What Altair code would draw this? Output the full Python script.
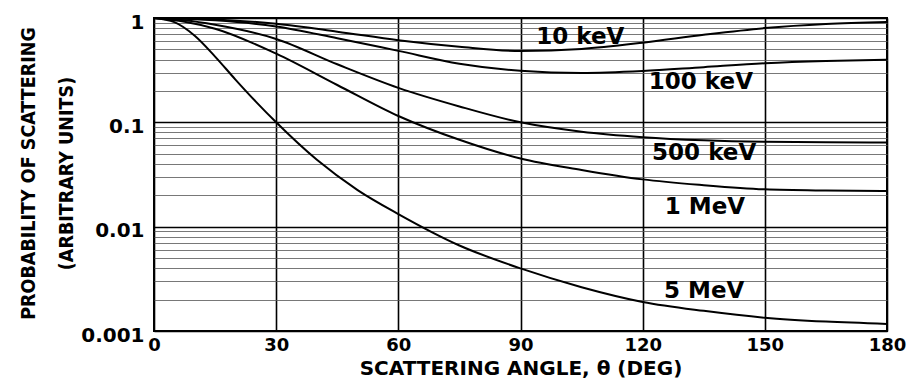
import altair as alt
import pandas as pd

# ---- data ----
angles = [0, 7.5, 15, 30, 45, 60, 75, 90, 105, 120, 135, 150, 165, 180]
p_10kev = [1.0, 0.99, 0.967, 0.88, 0.74, 0.612, 0.53, 0.482, 0.505, 0.58, 0.69, 0.80, 0.875, 0.915]
p_100kev = [1.0, 0.985, 0.95, 0.83, 0.64, 0.484, 0.365, 0.312, 0.297, 0.31, 0.338, 0.368, 0.387, 0.398]
p_500kev = [1.0, 0.95, 0.86, 0.63, 0.36, 0.214, 0.142, 0.1, 0.0813, 0.0721, 0.0673, 0.065, 0.0643, 0.0641]
p_1mev = [1.0, 0.92, 0.79, 0.455, 0.228, 0.115, 0.068, 0.045, 0.035, 0.0284, 0.025, 0.0228, 0.0222, 0.022]

angles_5mev = [0, 5, 10, 15, 20, 25, 30, 40, 50, 60, 75, 90, 105, 120, 135, 150, 165, 180]
p_5mev = [1.0, 0.912, 0.676, 0.427, 0.257, 0.158, 0.1, 0.0437, 0.0224, 0.0132, 0.0066, 0.00398,
          0.00263, 0.0019, 0.00156, 0.00134, 0.00123, 0.00117]

label_text = ["10 keV", "100 keV", "500 keV", "1 MeV", "5 MeV"]
label_x = [104.7, 134.3, 135.1, 135.3, 135.1]
label_y = [0.657, 0.243, 0.0513, 0.0154, 0.00244]

x_ticks = [0, 30, 60, 90, 120, 150, 180]
y_ticks = [0.001, 0.002, 0.003, 0.004, 0.005, 0.006, 0.007, 0.008, 0.009,
           0.01, 0.02, 0.03, 0.04, 0.05, 0.06, 0.07, 0.08, 0.09,
           0.1, 0.2, 0.3, 0.4, 0.5, 0.6, 0.7, 0.8, 0.9, 1]

# ---- build table ----
rows = []
for name, xs, ys in [("10 keV", angles, p_10kev), ("100 keV", angles, p_100kev),
                     ("500 keV", angles, p_500kev), ("1 MeV", angles, p_1mev),
                     ("5 MeV", angles_5mev, p_5mev)]:
    for a, p in zip(xs, ys):
        rows.append({"series": name, "angle": a, "p": p})
df = pd.DataFrame(rows)
labels_df = pd.DataFrame({"text": label_text, "x": label_x, "y": label_y})

decade = "abs(log(datum.value)/LN10 - round(log(datum.value)/LN10)) < 0.001"
tick_font = "DejaVu Sans"
ytitle_font = "'Liberation Sans Narrow', 'DejaVu Sans Condensed', 'DejaVu Sans'"

x_scale = alt.Scale(domain=[0, 180], nice=False)
y_scale = alt.Scale(type="log", domain=[0.001, 1], nice=False)

x_axis = alt.Axis(
    values=x_ticks, title="SCATTERING ANGLE, θ (DEG)", grid=True, gridColor="black",
    gridWidth=1.6, ticks=False, domain=False, labelFont=tick_font, labelFontSize=18,
    labelFontWeight="bold", labelColor="black", labelPadding=5, labelFlush=False,
    labelOverlap=False,
    titleFont=tick_font, titleFontSize=20, titleFontWeight="bold", titleColor="black",
    titleY=43, titleBaseline="alphabetic", titleAnchor="middle",
)
y_axis = alt.Axis(
    values=y_ticks, title=["PROBABILITY OF SCATTERING", "(ARBITRARY UNITS)"], grid=True,
    gridColor={"condition": {"test": decade, "value": "black"}, "value": "#555555"},
    gridWidth={"condition": {"test": decade, "value": 1.6}, "value": 0.8},
    ticks=False, domain=False,
    labelExpr=f"{decade} ? format(datum.value, '~g') : ''",
    labelFont=tick_font, labelFontSize=20, labelFontWeight="bold", labelColor="black",
    labelPadding=10, labelOverlap=False, labelOffset=4,
    titleFont=ytitle_font, titleFontSize=19.5, titleFontWeight="bold", titleColor="black",
    titleX=-126, titleY=155, titleAngle=270, titleAlign="center", titleBaseline="middle",
    titleLineHeight=38,
)

lines = alt.Chart(df).mark_line(color="black", strokeWidth=2, interpolate="monotone").encode(
    x=alt.X("angle:Q", scale=x_scale, axis=x_axis),
    y=alt.Y("p:Q", scale=y_scale, axis=y_axis),
    detail="series:N",
)

text = alt.Chart(labels_df).mark_text(
    font=tick_font, fontWeight="bold", fontSize=23, align="center", baseline="middle", color="black"
).encode(
    x=alt.X("x:Q", scale=x_scale),
    y=alt.Y("y:Q", scale=y_scale),
    text="text:N",
)

chart = alt.layer(lines, text).properties(
    width=733, height=313,
    autosize=alt.AutoSizeParams(type="none"),
    padding={"left": 154, "top": 18, "right": 29, "bottom": 49},
    background="white",
).configure_view(stroke="black", strokeWidth=2)

chart.save("out.html", embed_options={"renderer": "svg", "actions": False})
